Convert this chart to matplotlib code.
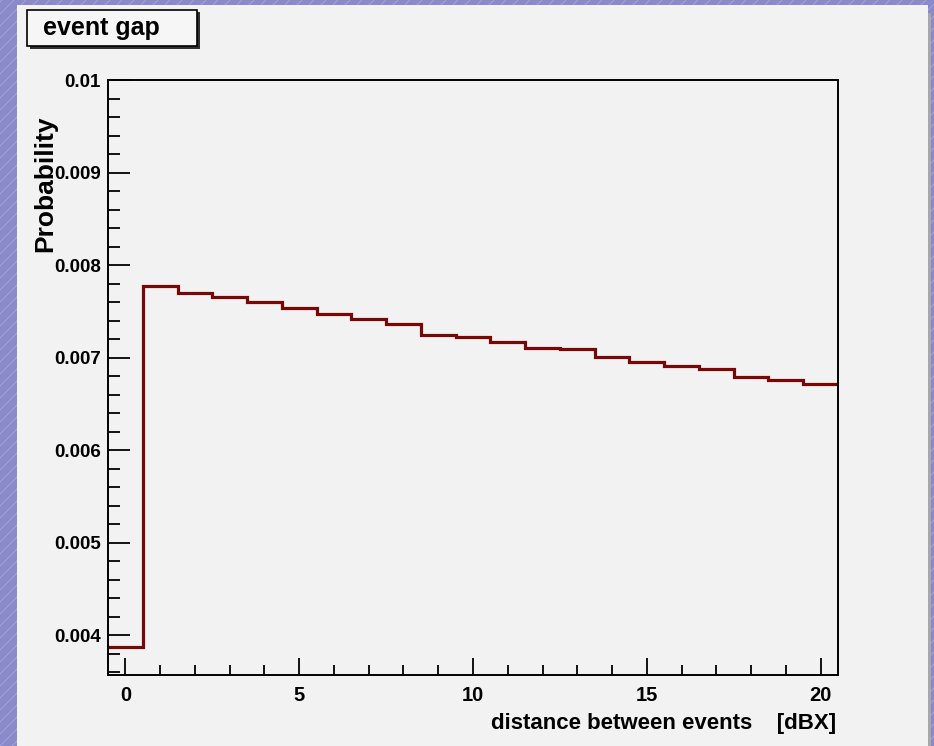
import numpy as np
import matplotlib
matplotlib.use("Agg")
import matplotlib.pyplot as plt
from matplotlib.patches import Rectangle
from matplotlib.lines import Line2D
from matplotlib.ticker import MultipleLocator, FormatStrFormatter

# histogram data: one bin per bunch crossing distance
bin_centers = [0, 1, 2, 3, 4, 5, 6, 7, 8, 9, 10, 11, 12, 13, 14, 15, 16, 17, 18, 19, 20]
probability = [0.00387, 0.007776, 0.007694, 0.007651, 0.007597, 0.007539, 0.007467,
               0.007416, 0.007362, 0.007243, 0.007225, 0.007171, 0.007106, 0.007088,
               0.007009, 0.006948, 0.006912, 0.006872, 0.006793, 0.006757, 0.00671]
y_ticks = [0.004, 0.005, 0.006, 0.007, 0.008, 0.009, 0.01]
x_ticks = [0, 5, 10, 15, 20]

W, H = 934, 746
font = "Liberation Sans"
pad_col = "#f2f2f2"
bg_col = "#8a8acb"

fig = plt.figure(figsize=(W / 100, H / 100), dpi=100, facecolor=bg_col)

# slide background stripes
for k in range(-80, 120):
    x0 = k * 12
    fig.add_artist(Line2D([x0 / W, (x0 + H) / W], [0, 1], color="#b4b4e0",
                          lw=0.6, alpha=0.7, zorder=0))

# ROOT pad + shadow
fig.add_artist(Rectangle((20 / W, 0), 911 / W, (H - 13) / H, transform=fig.transFigure,
                         facecolor="#a8a8a8", edgecolor="none", zorder=1))
fig.add_artist(Rectangle((17 / W, 0), 911 / W, (H - 5) / H, transform=fig.transFigure,
                         facecolor=pad_col, edgecolor="none", zorder=1))

ax = fig.add_axes([108 / W, 71 / H, 730 / W, 595 / H], zorder=2)
ax.set_facecolor(pad_col)

edges = [c - 0.5 for c in bin_centers] + [bin_centers[-1] + 0.5]
ax.stairs(probability, edges, baseline=None, color="#780808", lw=2.3)

ax.set_xlim(-0.5, 20.5)
ax.set_ylim(0.00357, 0.01)
ax.set_yticks(y_ticks)
ax.set_xticks(x_ticks)
ax.yaxis.set_minor_locator(MultipleLocator(0.0002))
ax.xaxis.set_minor_locator(MultipleLocator(1))
ax.yaxis.set_major_formatter(FormatStrFormatter("%g"))

ax.tick_params(axis="y", which="major", direction="in", length=16, width=1.3, pad=5)
ax.tick_params(axis="y", which="minor", direction="in", length=8.5, width=1.3)
ax.tick_params(axis="x", which="major", direction="in", length=12, width=1.3, pad=8)
ax.tick_params(axis="x", which="minor", direction="in", length=7.5, width=1.3)
for lab in ax.get_yticklabels():
    lab.set_fontfamily(font)
    lab.set_fontweight("bold")
    lab.set_fontsize(13.5)
for lab in ax.get_xticklabels():
    lab.set_fontfamily(font)
    lab.set_fontweight("bold")
    lab.set_fontsize(14.5)
for s in ax.spines.values():
    s.set_linewidth(1.4)

fig.text(836 / W, (H - 729) / H, "distance between events    [dBX]", ha="right",
         va="baseline", fontfamily=font, fontweight="bold", fontsize=16)
fig.text(45 / W, (H - 116) / H, "Probability", rotation=90, ha="center", va="top",
         fontfamily=font, fontweight="bold", fontsize=19)

# title box
fig.add_artist(Rectangle((30 / W, (H - 49) / H), 170 / W, 37 / H, transform=fig.transFigure,
                         facecolor="#303030", edgecolor="none", zorder=3))
fig.add_artist(Rectangle((27 / W, (H - 46) / H), 170 / W, 36 / H, transform=fig.transFigure,
                         facecolor="#f6f6f6", edgecolor="black", lw=1.2, zorder=4))
fig.text(43 / W, (H - 35) / H, "event gap", ha="left", va="baseline", fontfamily=font,
         fontweight="bold", fontsize=18, zorder=5)

fig.savefig("out.png", dpi=100, facecolor=bg_col)
